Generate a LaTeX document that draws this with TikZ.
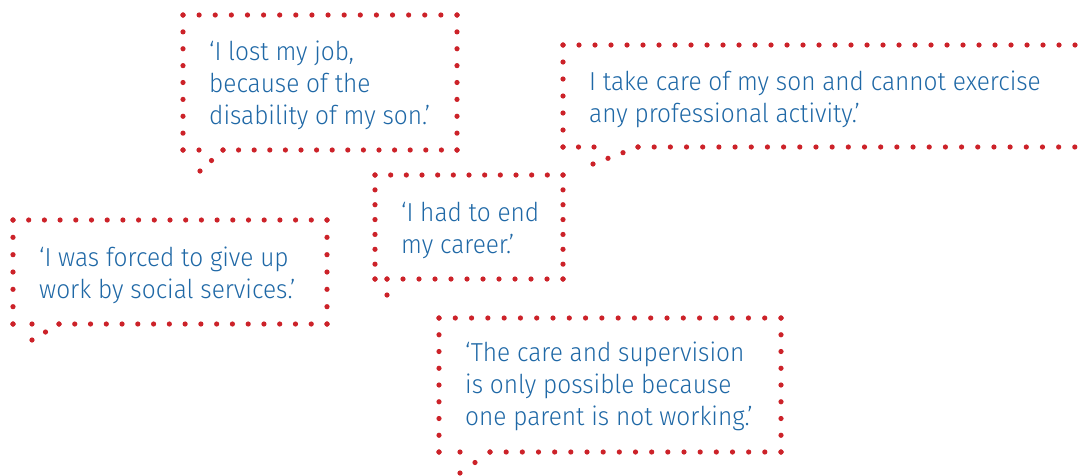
\documentclass[tikz,border=0pt]{standalone}
\usepackage{fontspec}
\setmainfont{Fira Sans Light}[FakeStretch=0.94]
\usetikzlibrary{calc}
\definecolor{dotred}{RGB}{204,34,41}
\definecolor{quoteblue}{RGB}{31,104,166}
\tikzset{
  dotmark/.style={fill=dotred},
  quotetext/.style={text=quoteblue, inner sep=0pt, anchor=base west, align=left,
    font=\fontsize{26}{31.8}\selectfont}
}
\newcommand\drow[5]{\foreach \k in {0,...,#5}{\fill[dotmark] ($(#1,#2)!{\k/#5}!(#3,#4)$) circle[radius=2.6pt];}}
\begin{document}
\begin{tikzpicture}[x=1pt,y=-1pt]
\useasboundingbox (0,0) rectangle (1086,475);
% bubble 1
\drow{183}{15}{457}{15}{17}
\drow{183}{15}{183}{150}{8}
\drow{457}{15}{457}{150}{8}
\drow{183}{150}{199}{150}{1}
\drow{223}{150}{200}{171}{2}
\drow{223}{150}{457}{150}{15}
\node[quotetext] (q1) at (209,124) {‘I lost my job,\\because of the\\disability of my son.’};
% bubble 2
\drow{563}{45}{1091}{45}{33}
\drow{563}{45}{563}{147}{6}
\drow{563}{147}{594}{147}{2}
\drow{638}{147}{593}{164}{3}
\drow{638}{147}{1091}{147}{28}
\node[quotetext] (q2) at (589,122) {I take care of my son and cannot exercise\\any professional activity.’};
% bubble 3
\drow{13}{220}{327}{220}{20}
\drow{13}{220}{13}{324}{6}
\drow{327}{220}{327}{324}{6}
\drow{13}{324}{32}{324}{1}
\drow{59}{324}{32}{340}{2}
\drow{59}{324}{327}{324}{17}
\node[quotetext] (q3) at (39,298) {‘I was forced to give up\\work by social services.’};
% bubble 4
\drow{375}{175}{563}{175}{12}
\drow{375}{175}{375}{279}{7}
\drow{563}{175}{563}{279}{7}
\drow{375}{279}{387}{279}{1}
\drow{387}{279}{387}{295}{1}
\drow{403}{279}{563}{279}{10}
\node[quotetext] (q4) at (401,253) {‘I had to end\\my career.’};
% bubble 5
\drow{439}{318}{781}{318}{21}
\drow{439}{318}{439}{452}{8}
\drow{781}{318}{781}{452}{8}
\drow{439}{452}{460}{452}{1}
\drow{490}{452}{460}{473}{2}
\drow{490}{452}{781}{452}{18}
\node[quotetext] (q5) at (465,425) {‘The care and supervision\\is only possible because\\one parent is not working.’};
\end{tikzpicture}
\end{document}
